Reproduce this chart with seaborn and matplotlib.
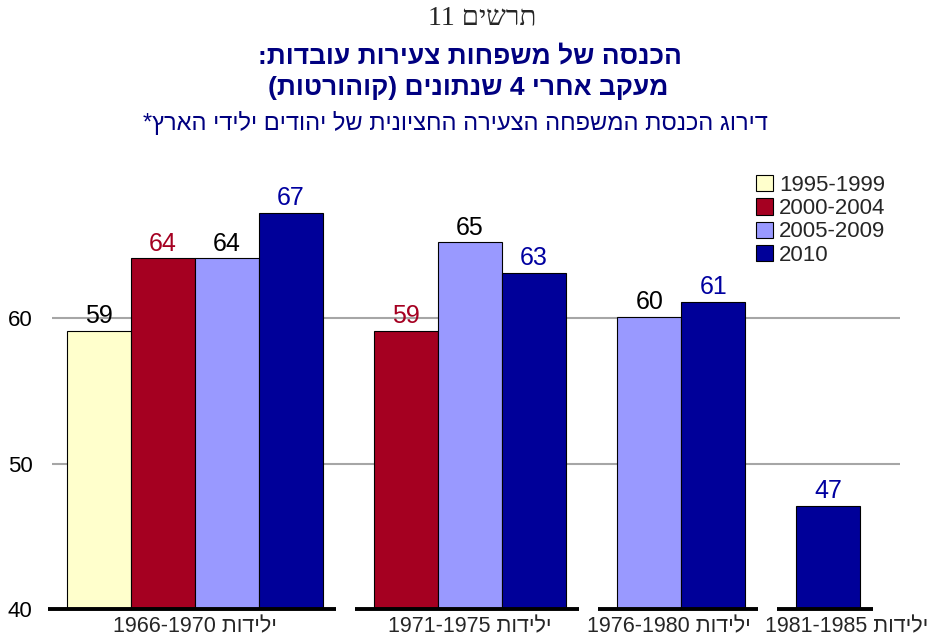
import re
import seaborn as sns
import pandas as pd
import matplotlib.pyplot as plt
from matplotlib.patches import Patch

# cohorts (groups) and survey periods (series)
cohorts = ["ילידות 1966-1970", "ילידות 1971-1975", "ילידות 1976-1980", "ילידות 1981-1985"]
periods = ["1995-1999", "2000-2004", "2005-2009", "2010"]

# values per period, one entry per cohort (None = no bar)
v_1995_1999 = [59.1, None, None, None]
v_2000_2004 = [64.1, 59.1, None, None]
v_2005_2009 = [64.1, 65.2, 60.1, None]
v_2010 = [67.2, 63.1, 61.1, 47.1]

title1 = "תרשים 11"
title2 = "הכנסה של משפחות צעירות עובדות:"
title3 = "מעקב אחרי 4 שנתונים (קוהורטות)"
title4 = "דירוג הכנסת המשפחה הצעירה החציונית של יהודים ילידי הארץ*"

colors = {"1995-1999": "#FFFFCC", "2000-2004": "#A50021",
          "2005-2009": "#9999FF", "2010": "#000099"}
label_colors = {"1995-1999": "black", "2000-2004": "#A50021",
                "2005-2009": "black", "2010": "#0000A0"}
NAVY = "#000080"


def vis(s):
    # crude bidi: reverse for RTL display, keep numbers in order, mirror parens
    r = s[::-1]
    r = re.sub(r'[0-9A-Za-z.\-]+', lambda m: m.group()[::-1], r)
    return r.translate(str.maketrans('()', ')('))


# build long table, bars of each cohort packed side by side
series = [v_1995_1999, v_2000_2004, v_2005_2009, v_2010]
gap = 0.8
rows = []
groups = []
start = 0.0
for i, c in enumerate(cohorts):
    n = 0
    for p, vals in zip(periods, series):
        if vals[i] is not None:
            rows.append({"cohort": c, "period": p, "value": vals[i], "pos": start + n + 0.5})
            n += 1
    groups.append((start, start + n))
    start += n + gap
df = pd.DataFrame(rows)

sns.set_theme(style="white")
plt.rcParams['font.family'] = ['Liberation Sans', 'DejaVu Sans']

fig = plt.figure(figsize=(9.34, 6.39), dpi=100)
ax = fig.add_axes([52 / 934, 30 / 639, 848 / 934, 436.5 / 639])

sns.barplot(data=df, x="pos", y="value", hue="period", hue_order=periods,
            palette=colors, saturation=1, native_scale=True, dodge=False, width=1,
            errorbar=None, edgecolor="black", linewidth=0.8, legend=False,
            ax=ax, zorder=3)

ax.set_xlim(-0.234, 13.02)
ax.set_ylim(40, 70)
ax.set_xticks([])
ax.set_yticks([40, 50, 60])
ax.tick_params(axis="y", length=0, pad=14, labelsize=16, colors="black")
ax.set_xlabel("")
ax.set_ylabel("")
for s in ax.spines.values():
    s.set_visible(False)

for yv in [50, 60]:
    ax.axhline(yv, color="#a6a6a6", lw=1.5, zorder=1)

# value labels
for _, r in df.iterrows():
    ax.annotate(str(int(round(r["value"]))), (r["pos"], r["value"]),
                xytext=(0, 2), textcoords="offset points", ha="center", va="bottom",
                fontsize=18, color=label_colors[r["period"]], zorder=6)

# baseline segments and cohort labels
label_dx = [0, 0, -9, 13]
for (g0, g1), c, dx in zip(groups, cohorts, label_dx):
    ax.hlines(40, g0 - 0.3, g1 + 0.2, color="black", lw=2.8, clip_on=False, zorder=5)
    ax.annotate(vis(c), ((g0 + g1) / 2, 40), xytext=(dx, -5), textcoords="offset points",
                ha="center", va="top", fontsize=15.5, annotation_clip=False)

handles = [Patch(facecolor=colors[p], edgecolor="black", linewidth=0.8) for p in periods]
fig.legend(handles, periods, loc="upper left", bbox_to_anchor=(756 / 934, 1 - 175 / 639),
           frameon=False, borderpad=0, borderaxespad=0, handlelength=0.75, handleheight=0.75,
           handletextpad=0.3, labelspacing=0.1, fontsize=16)

fig.text(482 / 934, 1 - 18 / 639, vis(title1), ha="center", va="center", fontsize=20,
         family=['Liberation Serif', 'DejaVu Sans'])
fig.text(470 / 934, 1 - 56 / 639, vis(title2), ha="center", va="center", fontsize=19,
         fontweight="bold", color=NAVY)
fig.text(468 / 934, 1 - 88 / 639, vis(title3), ha="center", va="center", fontsize=19,
         fontweight="bold", color=NAVY)
fig.text(455 / 934, 1 - 123 / 639, vis(title4), ha="center", va="center", fontsize=17,
         color=NAVY)

fig.savefig("out.png", dpi=100)
